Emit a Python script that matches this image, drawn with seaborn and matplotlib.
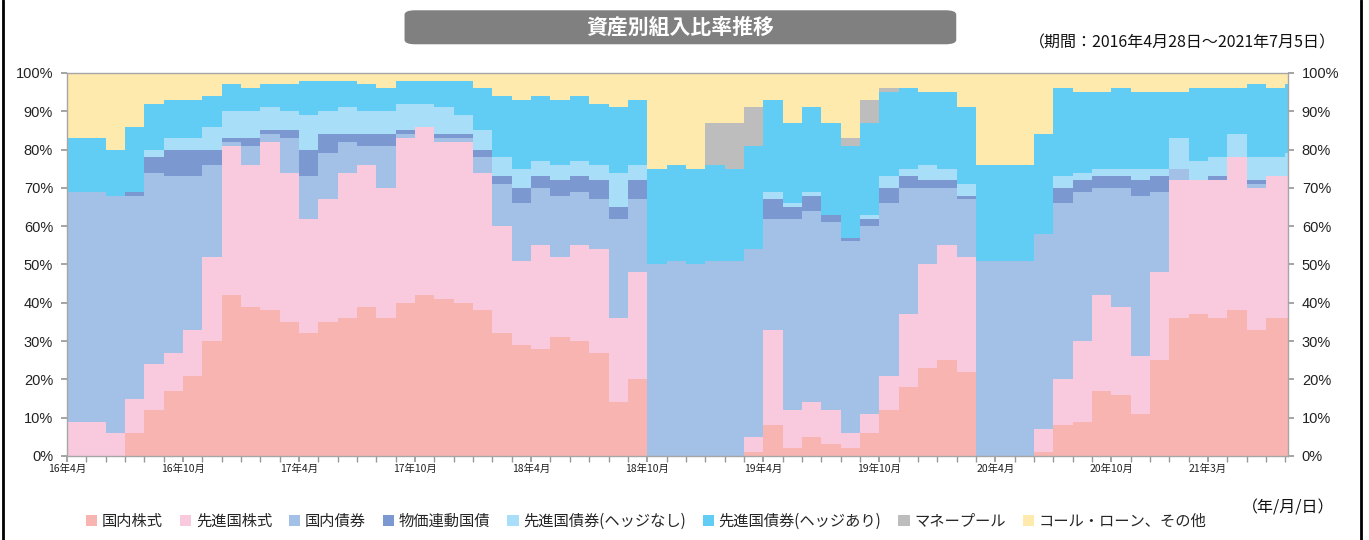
import numpy as np
import pandas as pd
import matplotlib
matplotlib.use("Agg")
import matplotlib.pyplot as plt
from matplotlib.patches import FancyBboxPatch, Patch
from matplotlib.ticker import FixedLocator
import seaborn as sns

# --- data: monthly allocation (%), May 2016 .. Jul 2021 ---
months = pd.period_range("2016-05", "2021-07", freq="M")

domestic_stock = [0, 0, 6, 12, 17, 21, 30, 42, 39, 38, 35, 32, 35, 36, 39, 36, 40, 42, 41, 40,
                  38, 32, 29, 28, 31, 30, 27, 14, 20, 0, 0, 0, 0, 0, 1, 8, 2, 5, 3, 2,
                  6, 12, 18, 23, 25, 22, 0, 0, 0, 1, 8, 9, 17, 16, 11, 25, 36, 37, 36, 38,
                  33, 36, 36]
developed_stock = [9, 6, 9, 12, 10, 12, 22, 39, 37, 44, 39, 30, 32, 38, 37, 34, 43, 44, 41, 42,
                   36, 28, 22, 27, 21, 25, 27, 22, 28, 0, 0, 0, 0, 0, 4, 25, 10, 9, 9, 4,
                   5, 9, 19, 27, 30, 30, 0, 0, 0, 6, 12, 21, 25, 23, 15, 23, 36, 35, 36, 40,
                   37, 37, 37]
domestic_bond = [60, 62, 53, 50, 46, 40, 24, 1, 5, 2, 9, 11, 12, 8, 5, 11, 1, 0, 1, 1,
                 4, 11, 15, 15, 16, 14, 13, 26, 19, 50, 51, 50, 51, 51, 49, 29, 50, 50, 49, 50,
                 49, 45, 33, 20, 15, 15, 51, 51, 51, 51, 46, 39, 28, 31, 42, 21, 3, 0, 0, 0,
                 1, 0, 0]
inflation_linked = [0, 0, 1, 4, 7, 7, 4, 1, 2, 1, 2, 7, 5, 2, 3, 3, 1, 0, 1, 1,
                    2, 2, 4, 3, 4, 4, 5, 3, 5, 0, 0, 0, 0, 0, 0, 5, 3, 4, 2, 1,
                    2, 4, 3, 2, 2, 1, 0, 0, 0, 0, 4, 3, 3, 3, 4, 4, 0, 0, 1, 0,
                    1, 0, 0]
developed_bond_unhedged = [0, 0, 0, 2, 3, 3, 6, 7, 7, 6, 5, 9, 6, 7, 6, 6, 7, 6, 7, 5,
                           5, 5, 5, 4, 4, 4, 4, 9, 4, 0, 0, 0, 0, 0, 0, 2, 1, 1, 0, 0,
                           1, 3, 2, 4, 3, 3, 0, 0, 0, 0, 3, 2, 2, 2, 3, 2, 8, 5, 5, 6,
                           6, 5, 6]
developed_bond_hedged = [14, 12, 17, 12, 10, 10, 8, 7, 6, 6, 7, 9, 8, 7, 7, 6, 6, 6, 7, 9,
                         11, 16, 18, 17, 17, 17, 16, 17, 17, 25, 25, 25, 25, 24, 27, 24, 21, 22, 24, 24,
                         24, 22, 21, 19, 20, 20, 25, 25, 25, 26, 23, 21, 20, 21, 20, 20, 12, 19, 18, 12,
                         19, 18, 18]
money_pool = [0, 0, 0, 0, 0, 0, 0, 0, 0, 0, 0, 0, 0, 0, 0, 0, 0, 0, 0, 0,
              0, 0, 0, 0, 0, 0, 0, 0, 0, 0, 0, 0, 11, 12, 10, 0, 0, 0, 0, 2,
              6, 1, 0, 0, 0, 0, 0, 0, 0, 0, 0, 0, 0, 0, 0, 0, 0, 0, 0, 0,
              0, 0, 0]
call_loan_other = [17, 20, 14, 8, 7, 7, 6, 3, 4, 3, 3, 2, 2, 2, 3, 4, 2, 2, 2, 2,
                   4, 6, 7, 6, 7, 6, 8, 9, 7, 25, 24, 25, 13, 13, 9, 7, 13, 9, 13, 17,
                   7, 4, 4, 5, 5, 9, 24, 24, 24, 16, 4, 5, 5, 4, 5, 5, 5, 4, 4, 4,
                   3, 4, 3]

asset_names = ["国内株式", "先進国株式", "国内債券", "物価連動国債", "先進国債券(ヘッジなし)",
               "先進国債券(ヘッジあり)", "マネープール", "コール・ローン、その他"]
asset_colors = ["#F7B4B0", "#F9C9DD", "#A3C1E6", "#7B99D0", "#A8DEF7",
                "#62CDF4", "#BDBDBD", "#FFEAAE"]

tick_months = ["2016-04", "2016-10", "2017-04", "2017-10", "2018-04", "2018-10",
               "2019-04", "2019-10", "2020-04", "2020-10", "2021-03"]
tick_labels = ["16年4月", "16年10月", "17年4月", "17年10月", "18年4月", "18年10月",
               "19年4月", "19年10月", "20年4月", "20年10月", "21年3月"]

# --- style ---
sns.set_theme(style="white")
plt.rcParams["font.family"] = ["Noto Sans CJK JP", "DejaVu Sans"]

df = pd.DataFrame({
    asset_names[0]: domestic_stock,
    asset_names[1]: developed_stock,
    asset_names[2]: domestic_bond,
    asset_names[3]: inflation_linked,
    asset_names[4]: developed_bond_unhedged,
    asset_names[5]: developed_bond_hedged,
    asset_names[6]: money_pool,
    asset_names[7]: call_loan_other,
}, index=months)

# x scale: months counted from 2016-04 (the first tick sits at the first data day, 4/28)
base = pd.Period("2016-04", freq="M")
def month_pos(p):
    return (p.year - base.year) * 12 + (p.month - base.month)

edges = np.array([month_pos(p) for p in df.index], dtype=float)
edges[0] = 0.0                                  # 2016-04-28
x_end = month_pos(months[-1]) + 4 / 31          # 2021-07-05
edges = np.append(edges, x_end)

vals = df.to_numpy(dtype=float)
vals = np.vstack([vals, vals[-1]])
tops = np.cumsum(vals, axis=1)

fig = plt.figure(figsize=(13.69, 5.40), dpi=100)
ax = fig.add_axes([0.0489, 0.1556, 0.8919, 0.7093])

bottom = np.zeros(len(edges))
for i, name in enumerate(asset_names):
    ax.fill_between(edges, bottom, tops[:, i], step="post", color=asset_colors[i],
                    linewidth=0, label=name)
    bottom = tops[:, i]

ax.set_xlim(0, x_end)
ax.set_ylim(0, 100)

ax.set_yticks(range(0, 101, 10))
ax.set_yticklabels([f"{v}%" for v in range(0, 101, 10)], family=["Liberation Sans", "DejaVu Sans"])
ax.tick_params(axis="y", which="major", direction="out", length=4, color="#999999",
               labelsize=10.5, left=True, right=True, labelleft=True, labelright=True,
               pad=6, labelcolor="#222222")

ax.xaxis.set_minor_locator(FixedLocator(np.arange(0, int(x_end) + 1)))
ax.set_xticks([month_pos(pd.Period(m, freq="M")) for m in tick_months])
ax.set_xticklabels(tick_labels)
ax.tick_params(axis="x", which="both", direction="out", length=4, color="#999999",
               bottom=True, labelsize=7.5, pad=2, labelcolor="#222222")

for s in ax.spines.values():
    s.set_color("#A6A6A6")
    s.set_linewidth(1.0)
ax.grid(False)

# title box
box = FancyBboxPatch((0.2955, 0.918), 0.403, 0.063, boxstyle="round,pad=0,rounding_size=0.008",
                     transform=fig.transFigure, facecolor="#808080", edgecolor="none")
fig.patches.append(box)
fig.text(0.497, 0.949, "資産別組入比率推移", color="white", fontsize=15,
         fontweight="bold", ha="center", va="center")
fig.text(0.976, 0.92, "（期間：2016年4月28日～2021年7月5日）", fontsize=11.5,
         ha="right", va="center", color="#111111")
fig.text(0.975, 0.06, "（年/月/日）", fontsize=11.5, ha="right", va="center", color="#111111")

handles = [Patch(facecolor=c, edgecolor="none") for c in asset_colors]
fig.legend(handles, asset_names, loc="center", bbox_to_anchor=(0.472, 0.035), ncol=8,
           frameon=False, fontsize=11, handlelength=0.75, handleheight=0.75,
           handletextpad=0.3, columnspacing=1.1, borderaxespad=0)

# outer frame lines (left/right)
fig.add_artist(plt.Line2D([0.0025, 0.0025], [0, 1], transform=fig.transFigure,
                          color="black", linewidth=2))
fig.add_artist(plt.Line2D([0.9945, 0.9945], [0, 1], transform=fig.transFigure,
                          color="black", linewidth=2))

fig.savefig("out.png", dpi=100, facecolor="white")
